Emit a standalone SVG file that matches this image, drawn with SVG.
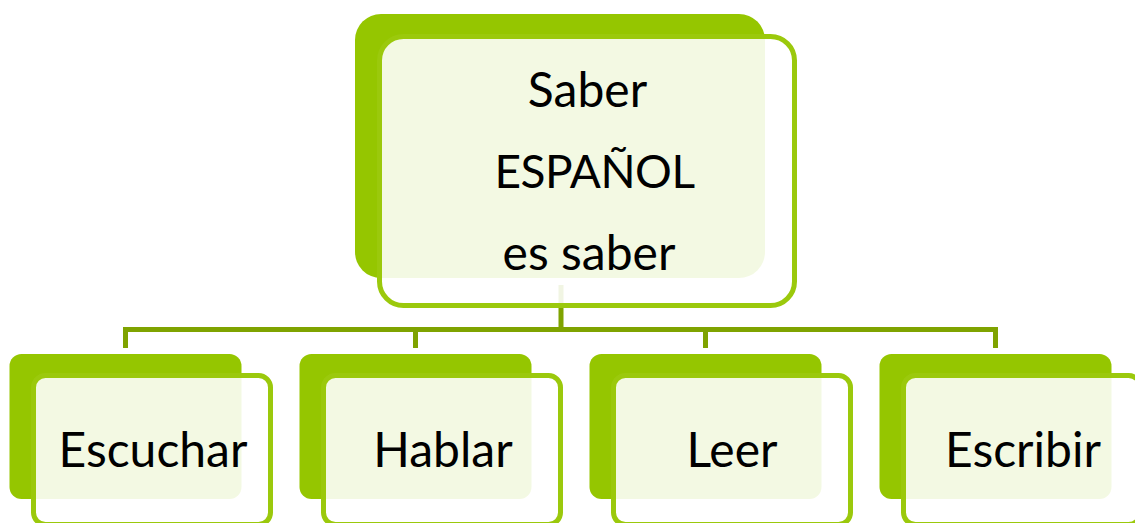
<svg xmlns="http://www.w3.org/2000/svg" width="1135" height="523" viewBox="0 0 1135 523">
  <style>
    .back { fill: #95c600; }
    .front { fill: #ffffff; fill-opacity: 0.89; stroke: #9bc90c; stroke-width: 5; }
    .conn { fill: none; stroke: #7fa300; stroke-width: 5; stroke-linejoin: miter; }
    .lbl { font-family: Lato, "Open Sans", "Liberation Sans", sans-serif; font-size: 48px; fill: #000000; text-anchor: middle; }
    .caps { font-size: 46px; letter-spacing: -0.5px; }
  </style>
  <rect width="1135" height="523" fill="#ffffff"/>
  <g id="connectors">
    <path class="conn" d="M561,285 V329.5 M125.5,348 V329.5 H995.5 V348 M415.5,329.5 V348 M705.5,329.5 V348"/>
  </g>
  <g id="node-root">
    <rect class="back" x="355" y="14" width="410" height="264" rx="26"/>
    <rect class="front" x="379.5" y="36.5" width="415" height="269" rx="24"/>
    <text class="lbl" x="587.5" y="107">Saber</text>
    <text class="lbl caps" x="594.5" y="188">ESPAÑOL</text>
    <text class="lbl" x="589" y="270">es saber</text>
  </g>
  <g id="node-escuchar">
    <rect class="back" x="9.5" y="354" width="232" height="145" rx="12"/>
    <rect class="front" x="33.5" y="375.5" width="237" height="149" rx="12"/>
    <text class="lbl" x="153" y="467">Escuchar</text>
  </g>
  <g id="node-hablar">
    <rect class="back" x="299.5" y="354" width="232" height="145" rx="12"/>
    <rect class="front" x="323.5" y="375.5" width="237" height="149" rx="12"/>
    <text class="lbl" x="443" y="467">Hablar</text>
  </g>
  <g id="node-leer">
    <rect class="back" x="589.5" y="354" width="232" height="145" rx="12"/>
    <rect class="front" x="613.5" y="375.5" width="237" height="149" rx="12"/>
    <text class="lbl" x="732" y="467">Leer</text>
  </g>
  <g id="node-escribir">
    <rect class="back" x="879.5" y="354" width="232" height="145" rx="12"/>
    <rect class="front" x="903.5" y="375.5" width="237" height="149" rx="12"/>
    <text class="lbl" x="1023" y="467">Escribir</text>
  </g>
</svg>
